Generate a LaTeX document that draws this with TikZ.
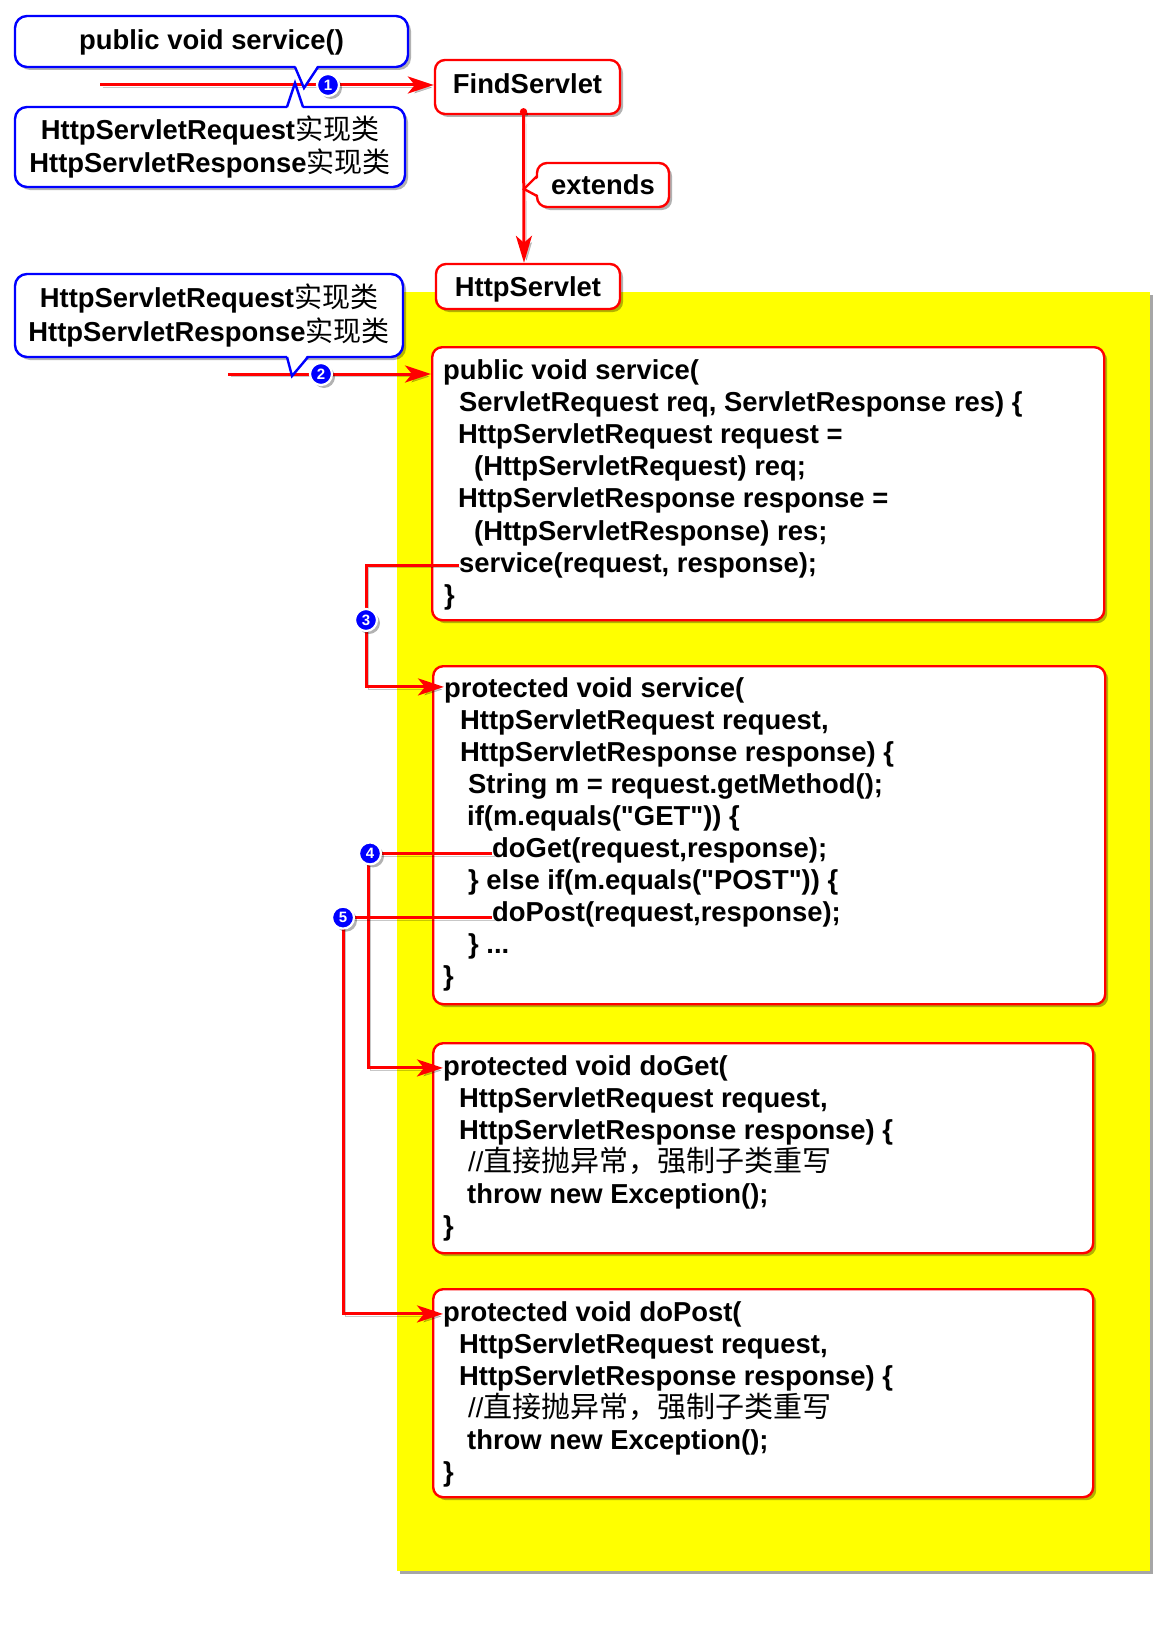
\documentclass[tikz,border=0pt]{standalone}
\usepackage{fontspec}
\setmainfont{Liberation Sans}[Ligatures=TeXOff]
\newfontfamily\cjk{Noto Sans CJK SC}
\usetikzlibrary{arrows.meta,shadows}
\definecolor{boxred}{RGB}{255,0,0}
\definecolor{calblue}{RGB}{0,0,255}
\definecolor{hl}{RGB}{255,255,0}
\newcommand{\cfont}{\fontsize{27.4}{33}\selectfont\bfseries}
\newcommand{\zh}[1]{{\mdseries\cjk\fontsize{28}{33}\selectfont #1}}
\newcommand{\zhc}[1]{{\mdseries\cjk\fontsize{29}{33}\selectfont #1}}
\tikzset{
  shd/.style={drop shadow={shadow xshift=3pt,shadow yshift=-3pt,opacity=0.3,fill=black}},
  rbox/.style={draw=boxred,line width=2.4pt,fill=white,rounded corners=10pt,inner sep=0pt,shd},
  lbox/.style={rbox,font=\cfont,text height=19.6pt,text depth=5.7pt},
  cbox/.style={draw=calblue,line width=2.4pt,fill=white,rounded corners=12pt,inner sep=0pt,font=\cfont,shd},
  bptr/.style={draw=calblue,line width=2.4pt,line join=miter},
  rptr/.style={draw=boxred,line width=2.4pt,line join=miter},
  hlbox/.style={fill=hl,inner sep=0pt,drop shadow={shadow xshift=3pt,shadow yshift=-3pt,opacity=0.35,fill=black}},
  code/.style={anchor=base west,inner sep=0pt,font=\cfont},
  conn/.style={draw=boxred,line width=3pt,-{Stealth[length=26pt,width=17pt,inset=7pt]},
    preaction={draw=black,opacity=0.22,transform canvas={xshift=2.5pt,yshift=-2.5pt}}},
  badge/.style={circle,fill=calblue,draw=white,line width=2.2pt,minimum size=22pt,inner sep=0pt,
    text=white,font=\fontsize{15}{15}\selectfont\bfseries,shd},
}
\begin{document}
\begin{tikzpicture}[x=1pt,y=-1pt]
\useasboundingbox (0,0) rectangle (1171,1627);

% yellow background
\node[hlbox,anchor=north west,minimum width=753pt,minimum height=1279pt] (bg) at (397,292) {};

% class boxes
\node[lbox,minimum width=185pt,minimum height=54pt] (find) at (527.5,87) {FindServlet};
\node[lbox,minimum width=184pt,minimum height=45pt,text depth=0pt] (http) at (528,286.5) {HttpServlet};

% code boxes
\node[rbox,anchor=north west,minimum width=672pt,minimum height=273pt] (b1) at (431,346) {};
\node[rbox,anchor=north west,minimum width=672pt,minimum height=338pt] (b2) at (432,665) {};
\node[rbox,anchor=north west,minimum width=660pt,minimum height=210pt] (b3) at (432,1042) {};
\node[rbox,anchor=north west,minimum width=660pt,minimum height=208pt] (b4) at (432,1288) {};

% box 1 text
\node[code] (a0) at (443,379) {public void service(};
\node[code] (a1) at (459,411.2) {ServletRequest req, ServletResponse res) \{};
\node[code] (a2) at (458,443.4) {HttpServletRequest request =};
\node[code] (a3) at (474,475.6) {(HttpServletRequest) req;};
\node[code] (a4) at (458,507.8) {HttpServletResponse response =};
\node[code] (a5) at (474,540) {(HttpServletResponse) res;};
\node[code] (a6) at (459,572.2) {service(request, response);};
\node[code] (a7) at (444,604.4) {\}};

% box 2 text
\node[code] (q0) at (444,697) {protected void service(};
\node[code] (q1) at (460,729.1) {HttpServletRequest request,};
\node[code] (q2) at (460,761.2) {HttpServletResponse response) \{};
\node[code] (q3) at (468,793.3) {String m = request.getMethod();};
\node[code] (q4) at (467,825.4) {if(m.equals("GET")) \{};
\node[code] (q5) at (492,857.5) {doGet(request,response);};
\node[code] (q6) at (468,889.6) {\} else if(m.equals("POST")) \{};
\node[code] (q7) at (492,921.7) {doPost(request,response);};
\node[code] (q8) at (468,953.8) {\} ...};
\node[code] (q9) at (443,985.9) {\}};

% box 3 text
\node[code] (g0) at (443,1075) {protected void doGet(};
\node[code] (g1) at (459,1107.1) {HttpServletRequest request,};
\node[code] (g2) at (459,1139.2) {HttpServletResponse response) \{};
\node[code] (g3) at (468,1171.3) {{\mdseries //}\zhc{直接抛异常，强制子类重写}};
\node[code] (g4) at (467,1203.4) {throw new Exception();};
\node[code] (g5) at (443,1235.5) {\}};

% box 4 text
\node[code] (p0) at (443,1321) {protected void doPost(};
\node[code] (p1) at (459,1353.1) {HttpServletRequest request,};
\node[code] (p2) at (459,1385.2) {HttpServletResponse response) \{};
\node[code] (p3) at (468,1417.3) {{\mdseries //}\zhc{直接抛异常，强制子类重写}};
\node[code] (p4) at (467,1449.4) {throw new Exception();};
\node[code] (p5) at (443,1481.5) {\}};

% incoming arrows
\coordinate (s1) at (100,85);
\coordinate (s2) at (228,374);
\draw[conn] (s1) -- (s1 -| find.west);
\draw[conn] (s2) -- (s2 -| b1.west);

% callouts
\node[cbox,minimum width=393pt,minimum height=51pt,text height=19.6pt,text depth=3.5pt] (c1) at (211.5,41.5) {public void service()};
\fill[white] (294.5,63.5) -- (304,88) -- (318.5,63.5) -- cycle;
\draw[bptr] (295,67) -- (304,88) -- (318,67);

\node[cbox,minimum width=390pt,minimum height=80pt,align=center] (c2) at (210,147) {HttpServletRequest\zh{实现类}\\HttpServletResponse\zh{实现类}};
\fill[white] (286.5,110.5) -- (295,83) -- (303.5,110.5) -- cycle;
\draw[bptr] (287,107) -- (295,83) -- (303,107);

\node[cbox,minimum width=388pt,minimum height=83pt,align=center] (c3) at (209,315.5) {\raisebox{1pt}{HttpServletRequest\zh{实现类}}\\HttpServletResponse\zh{实现类}};
\fill[white] (286.5,353.5) -- (292,376) -- (308.5,353.5) -- cycle;
\draw[bptr] (287,357) -- (292,376) -- (308,357);

% extends
\draw[conn,{Circle[length=7pt,width=7pt]}-{Stealth[length=27pt,width=16pt,inset=7pt]}] ([xshift=-4pt,yshift=7pt]find.south) -- ([xshift=-4pt]http.north);
\node[lbox,minimum width=132pt,minimum height=44pt,text depth=0pt] (ext) at (603,185) {extends};
\fill[white] (540.5,176) -- (524,189) -- (540.5,196) -- cycle;
\draw[rptr] (537,176) -- (524,189) -- (537,196);

% call connectors
\coordinate (v3) at (366,0);
\coordinate (v4) at (368,0);
\coordinate (v5) at (343,0);
\draw[conn] (a6.west) -- (a6.west -| v3) |- ([yshift=3pt]q0.west);
\draw[conn] ([yshift=-3pt]q5.west) -- ([yshift=-3pt]q5.west -| v4) |- (g0.west);
\draw[conn] ([yshift=-3pt]q7.west) -- ([yshift=-3pt]q7.west -| v5) |- (p0.west);

% badges
\node[badge] (n1) at (328,85) {1};
\node[badge] (n2) at (321,374) {2};
\node[badge] (n3) at (366,620) {3};
\node[badge] (n4) at ([xshift=2pt,yshift=-3pt]q5.west -| v4) {4};
\node[badge] (n5) at ([yshift=-3pt]q7.west -| v5) {5};
\end{tikzpicture}
\end{document}
